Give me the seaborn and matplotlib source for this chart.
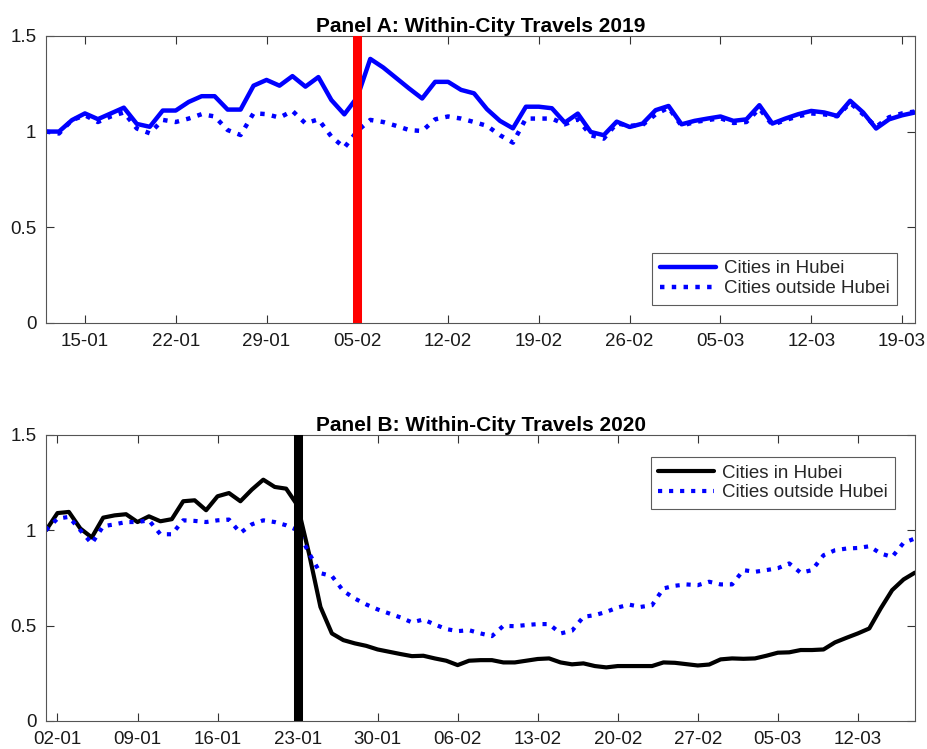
import matplotlib
matplotlib.use("Agg")
import matplotlib.pyplot as plt
import matplotlib.dates as mdates
import numpy as np
import pandas as pd
import seaborn as sns

# Panel A: 2019, daily from 12-01 to 20-03
days_2019 = pd.date_range("2019-01-12", periods=68, freq="D")
hubei_2019 = [1.00, 1.00, 1.06, 1.095, 1.065, 1.095, 1.125, 1.04, 1.025, 1.11,
              1.11, 1.155, 1.185, 1.185, 1.115, 1.115, 1.24, 1.27, 1.24, 1.29,
              1.235, 1.285, 1.165, 1.09, 1.18, 1.38, 1.335, 1.28, 1.225, 1.173,
              1.26, 1.26, 1.218, 1.20, 1.117, 1.056, 1.017, 1.13, 1.13, 1.122,
              1.047, 1.094, 0.998, 0.981, 1.052, 1.024, 1.042, 1.112, 1.134, 1.038,
              1.056, 1.068, 1.079, 1.056, 1.064, 1.138, 1.042, 1.068, 1.091, 1.108,
              1.10, 1.082, 1.161, 1.10, 1.016, 1.064, 1.085, 1.10]
outside_2019 = [1.00, 0.99, 1.06, 1.085, 1.05, 1.079, 1.10, 1.016, 0.991, 1.061,
                1.05, 1.068, 1.091, 1.079, 1.008, 0.982, 1.096, 1.091, 1.073, 1.108,
                1.043, 1.064, 0.974, 0.916, 1.003, 1.061, 1.05, 1.03, 1.008, 1.003,
                1.064, 1.079, 1.068, 1.05, 1.03, 0.981, 0.942, 1.068, 1.068, 1.068,
                1.038, 1.064, 0.981, 0.963, 1.043, 1.03, 1.035, 1.09, 1.125, 1.03,
                1.05, 1.06, 1.07, 1.045, 1.05, 1.12, 1.035, 1.06, 1.08, 1.095,
                1.09, 1.08, 1.15, 1.09, 1.025, 1.075, 1.095, 1.105]

# Panel B: 2020, daily from 01-01 to 17-03
days_2020 = pd.date_range("2020-01-01", periods=77, freq="D")
hubei_2020 = [1.00, 1.09, 1.096, 1.009, 0.962, 1.066, 1.078, 1.084, 1.043, 1.073,
              1.047, 1.058, 1.152, 1.157, 1.105, 1.178, 1.195, 1.152, 1.213, 1.265,
              1.227, 1.218, 1.13, 0.878, 0.598, 0.459, 0.424, 0.407, 0.394, 0.375,
              0.363, 0.351, 0.34, 0.342, 0.328, 0.316, 0.293, 0.316, 0.319, 0.319,
              0.307, 0.307, 0.316, 0.325, 0.328, 0.307, 0.297, 0.302, 0.288, 0.281,
              0.288, 0.288, 0.288, 0.288, 0.307, 0.305, 0.298, 0.291, 0.296, 0.323,
              0.328, 0.326, 0.328, 0.342, 0.358, 0.36, 0.372, 0.372, 0.375, 0.412,
              0.436, 0.459, 0.485, 0.59, 0.686, 0.742, 0.778]
outside_2020 = [1.00, 1.061, 1.07, 1.00, 0.93, 1.021, 1.031, 1.043, 1.043, 1.052,
                0.979, 0.979, 1.052, 1.049, 1.043, 1.052, 1.056, 0.986, 1.031, 1.052,
                1.043, 1.026, 1.00, 0.88, 0.775, 0.76, 0.682, 0.642, 0.611, 0.585,
                0.564, 0.543, 0.517, 0.532, 0.506, 0.482, 0.471, 0.476, 0.459, 0.445,
                0.499, 0.497, 0.503, 0.508, 0.508, 0.459, 0.473, 0.546, 0.555, 0.572,
                0.595, 0.61, 0.598, 0.607, 0.695, 0.709, 0.716, 0.712, 0.73, 0.716,
                0.716, 0.791, 0.782, 0.791, 0.801, 0.826, 0.777, 0.791, 0.869, 0.895,
                0.904, 0.907, 0.916, 0.878, 0.86, 0.934, 0.957]

series_names = ["Cities in Hubei", "Cities outside Hubei"]
event_2019 = pd.Timestamp("2019-02-05")
event_2020 = pd.Timestamp("2020-01-23")

sns.set_style("ticks")
plt.rcParams["font.family"] = ["Liberation Sans", "DejaVu Sans"]

fig = plt.figure(figsize=(9.28, 7.49), dpi=100)
axA = fig.add_axes([0.0496, 0.569, 0.9364, 0.383])
axB = fig.add_axes([0.0496, 0.0374, 0.9364, 0.382])


def style_axis(ax, start, first_tick, end, title):
    ax.set_xlim(start, end)
    ax.set_ylim(0, 1.5)
    ax.set_yticks([0, 0.5, 1, 1.5])
    ax.set_yticklabels(["0", "0.5", "1", "1.5"])
    ax.set_xticks(pd.date_range(first_tick, end, freq="7D"))
    ax.xaxis.set_major_formatter(mdates.DateFormatter("%d-%m"))
    ax.tick_params(direction="in", length=6, width=0.8, top=True, right=True,
                   labelsize=13.5, colors="#333333", labelcolor="#1a1a1a", pad=7)
    for s in ax.spines.values():
        s.set_color("#555555")
        s.set_linewidth(0.8)
    ax.set_xlabel("")
    ax.set_ylabel("")
    ax.set_title(title, fontsize=15, fontweight="bold", pad=3, color="black")


def add_legend(ax, loc, anchor):
    leg = ax.legend(loc=loc, bbox_to_anchor=anchor, fontsize=13.5,
                    frameon=True, fancybox=False, edgecolor="#333333",
                    handlelength=3.0, handletextpad=0.4, borderpad=0.4,
                    labelspacing=0.15, borderaxespad=0)
    leg.get_frame().set_linewidth(0.8)


# Panel A
sns.lineplot(x=days_2019, y=hubei_2019, ax=axA, color="#0000ff", lw=3.2,
             label=series_names[0])
sns.lineplot(x=days_2019, y=outside_2019, ax=axA, color="#0000ff", lw=3.2,
             linestyle=":", label=series_names[1])
axA.axvline(event_2019, color="#ff0000", lw=6.5, zorder=3)
style_axis(axA, days_2019[0], "2019-01-15", days_2019[-1],
           "Panel A: Within-City Travels 2019")
add_legend(axA, "lower right", (0.979, 0.063))

# Panel B
sns.lineplot(x=days_2020, y=hubei_2020, ax=axB, color="black", lw=3,
             label=series_names[0])
sns.lineplot(x=days_2020, y=outside_2020, ax=axB, color="#0000ff", lw=3,
             linestyle=":", label=series_names[1])
axB.axvline(event_2020, color="black", lw=6.5, zorder=3)
style_axis(axB, days_2020[0], "2020-01-02", days_2020[-1],
           "Panel B: Within-City Travels 2020")
add_legend(axB, "upper right", (0.977, 0.923))

plt.savefig("out.png", dpi=100)
